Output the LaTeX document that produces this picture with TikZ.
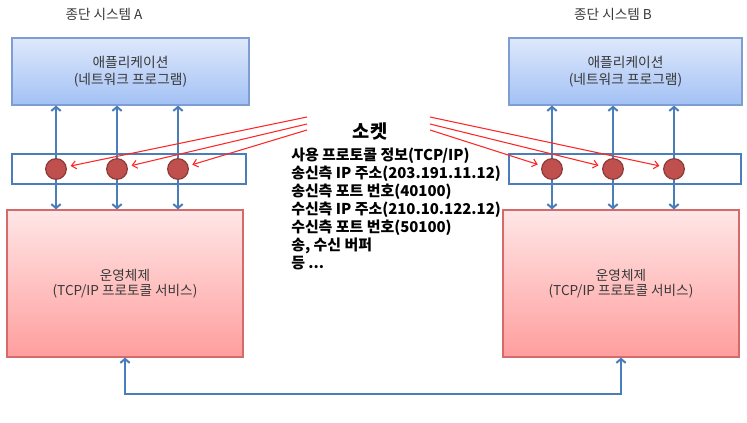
\documentclass[tikz,border=0pt]{standalone}
\usepackage{fontspec}
\setmainfont{Noto Sans CJK KR}
\usetikzlibrary{arrows.meta,shadows}
\definecolor{linkblue}{HTML}{4A7EBB}
\definecolor{appTop}{HTML}{DEE8FB}
\definecolor{appBot}{HTML}{A3C1F5}
\definecolor{appLine}{HTML}{7E9ED3}
\definecolor{osTop}{HTML}{FFE6E6}
\definecolor{osBot}{HTML}{FF9E9E}
\definecolor{osLine}{HTML}{D46A6A}
\definecolor{sockFill}{HTML}{C0504D}
\definecolor{sockLine}{HTML}{8C3A38}
\definecolor{txtgray}{HTML}{383838}
\begin{document}
\begin{tikzpicture}[x=0.75pt,y=-0.75pt,
  appbox/.style={draw=appLine,line width=0.9pt,top color=appTop,bottom color=appBot,
    minimum height=50.25pt,align=center,font=\fontsize{10.3}{12.75}\selectfont,text=txtgray,
    drop shadow={opacity=0.25,shadow xshift=1pt,shadow yshift=-1pt}},
  osbox/.style={draw=osLine,line width=0.9pt,top color=osTop,bottom color=osBot,
    minimum height=110.25pt,align=center,font=\fontsize{10.2}{11}\selectfont,text=txtgray,
    drop shadow={opacity=0.25,shadow xshift=1pt,shadow yshift=-1pt}},
  strip/.style={draw=linkblue,line width=1.5pt,minimum height=22.5pt,inner sep=0pt},
  sock/.style={circle,draw=sockLine,fill=sockFill,line width=0.9pt,minimum size=15.5pt,inner sep=0pt},
  link/.style={draw=linkblue,line width=1.5pt,{Straight Barb[length=3pt,width=7pt]}-{Straight Barb[length=3pt,width=7pt]}},
  redarrow/.style={draw=red!85!white,line width=0.8pt,-{Straight Barb[length=3.5pt,width=6pt]},shorten >=3pt},
  title/.style={font=\fontsize{10.2}{12}\selectfont,text=txtgray},
  info/.style={anchor=base west,inner sep=0pt,font=\fontsize{11.2}{13}\selectfont\bfseries}
]
\useasboundingbox (0,0) rectangle (747,422);

% titles
\node[title] (tA) at (104,14) {종단 시스템 A};
\node[title] (tB) at (613,14) {종단 시스템 B};

% application boxes
\node[appbox,minimum width=177.75pt] (appA) at (130.5,71.5) {애플리케이션\\(네트워크 프로그램)};
\node[appbox,minimum width=174.75pt] (appB) at (625.5,71.5) {애플리케이션\\(네트워크 프로그램)};

% OS boxes
\node[osbox,minimum width=177pt] (osA) at (125,283.5) {운영체제\\(TCP/IP 프로토콜 서비스)};
\node[osbox,minimum width=177pt] (osB) at (621,283.5) {운영체제\\(TCP/IP 프로토콜 서비스)};

% socket strips
\node[strip,minimum width=175.5pt] (sA) at (129,169) {};
\node[strip,minimum width=174pt] (sB) at (625,169) {};

% socket positions
\coordinate (pA1) at (56,169);
\coordinate (pA2) at (117,169);
\coordinate (pA3) at (178,169);
\coordinate (pB1) at (552,169);
\coordinate (pB2) at (613,169);
\coordinate (pB3) at (674,169);

% vertical links
\foreach \p in {pA1,pA2,pA3}{
  \draw[link] (appA.south -| \p) -- (osA.north -| \p);
}
\foreach \p in {pB1,pB2,pB3}{
  \draw[link] (appB.south -| \p) -- (osB.north -| \p);
}

% sockets
\node[sock] (cA1) at (pA1) {};
\node[sock] (cA2) at (pA2) {};
\node[sock] (cA3) at (pA3) {};
\node[sock] (cB1) at (pB1) {};
\node[sock] (cB2) at (pB2) {};
\node[sock] (cB3) at (pB3) {};

% bottom link between OSes
\coordinate (bot) at (373,394);
\draw[link] (osA.south) |- (bot) -| (osB.south);

% socket label and info
\node[font=\fontsize{14}{16}\selectfont\bfseries] (sockT) at (370,131) {소켓};
\node[info] (i1) at (291,160.5) {사용 프로토콜 정보(TCP/IP)};
\node[info] (i2) at (291,178.5) {송신측 IP 주소(203.191.11.12)};
\node[info] (i3) at (291,196.5) {송신측 포트 번호(40100)};
\node[info] (i4) at (291,214.5) {수신측 IP 주소(210.10.122.12)};
\node[info] (i5) at (291,232.5) {수신측 포트 번호(50100)};
\node[info] (i6) at (291,250.5) {송, 수신 버퍼};
\node[info] (i7) at (291,268.5) {등 ...};

% red pointer lines
\coordinate (l1) at (307,117);
\coordinate (l2) at (307,124);
\coordinate (l3) at (307,130);
\coordinate (r1) at (430,117);
\coordinate (r2) at (430,124);
\coordinate (r3) at (430,130);
\draw[redarrow] (l1) -- (cA1);
\draw[redarrow] (l2) -- (cA2);
\draw[redarrow] (l3) -- (cA3);
\draw[redarrow] (r1) -- (cB3);
\draw[redarrow] (r2) -- (cB2);
\draw[redarrow] (r3) -- (cB1);
\end{tikzpicture}
\end{document}
